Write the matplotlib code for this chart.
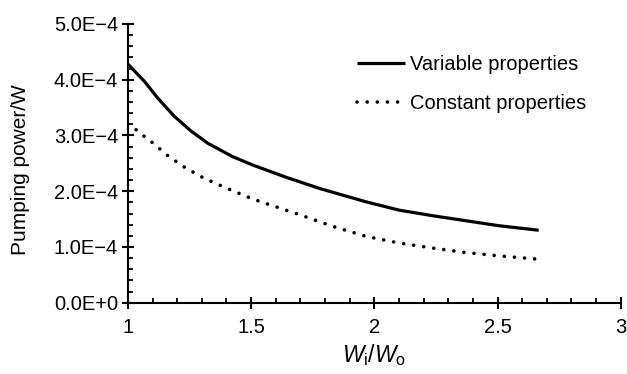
import matplotlib
matplotlib.use("Agg")
import matplotlib.pyplot as plt
from matplotlib.ticker import FixedLocator, MultipleLocator

plt.rcParams['font.family'] = ['Liberation Sans', 'DejaVu Sans']
plt.rcParams['mathtext.fontset'] = 'custom'
plt.rcParams['mathtext.rm'] = 'Liberation Sans'
plt.rcParams['mathtext.it'] = 'Liberation Sans:italic'

# Data
x_var = [1.0, 1.067, 1.121, 1.189, 1.256, 1.324, 1.425, 1.506, 1.642, 1.777, 1.966,
         2.101, 2.237, 2.372, 2.507, 2.667]
y_var = [4.28e-4, 3.97e-4, 3.67e-4, 3.34e-4, 3.08e-4, 2.86e-4, 2.62e-4, 2.47e-4,
         2.25e-4, 2.05e-4, 1.81e-4, 1.66e-4, 1.56e-4, 1.47e-4, 1.38e-4, 1.30e-4]

x_const = [1.0, 1.037, 1.07, 1.10, 1.164, 1.233, 1.306, 1.382, 1.419, 1.506, 1.642,
           1.696, 1.831, 1.966, 2.101, 2.237, 2.372, 2.507, 2.667]
y_const = [3.21e-4, 3.09e-4, 2.97e-4, 2.87e-4, 2.63e-4, 2.42e-4, 2.24e-4, 2.09e-4,
           2.02e-4, 1.86e-4, 1.66e-4, 1.58e-4, 1.37e-4, 1.19e-4, 1.07e-4, 0.98e-4,
           0.90e-4, 0.84e-4, 0.78e-4]

labels = ["Variable properties", "Constant properties"]
x_ticks = [1, 1.5, 2, 2.5, 3]
x_tick_labels = ["1", "1.5", "2", "2.5", "3"]
y_ticks = [0, 1e-4, 2e-4, 3e-4, 4e-4, 5e-4]
y_tick_labels = ["0.0E+0", "1.0E\u22124", "2.0E\u22124", "3.0E\u22124", "4.0E\u22124", "5.0E\u22124"]

fig = plt.figure(figsize=(6.27, 3.74), dpi=100)
ax = fig.add_axes([0.204, 0.1906, 0.786, 0.7454])

ax.plot(x_var, y_var, color='black', lw=2.3, solid_capstyle='butt',
        solid_joinstyle='round', label=labels[0])
ax.plot(x_const, y_const, color='black', lw=2.6, linestyle=(0, (0.01, 2.8)),
        dash_capstyle='round', label=labels[1])

ax.set_xlim(1, 3)
ax.set_ylim(0, 5e-4)

for s in ['top', 'right']:
    ax.spines[s].set_visible(False)
for s in ['left', 'bottom']:
    ax.spines[s].set_linewidth(1.5)

ax.xaxis.set_major_locator(FixedLocator(x_ticks))
ax.set_xticklabels(x_tick_labels)
ax.xaxis.set_minor_locator(MultipleLocator(0.1))
ax.yaxis.set_major_locator(FixedLocator(y_ticks))
ax.set_yticklabels(y_tick_labels)
ax.yaxis.set_minor_locator(MultipleLocator(0.2e-4))

ax.tick_params(which='major', direction='inout', length=8, width=1.5, labelsize=14.5)
ax.tick_params(axis='y', which='major', pad=3)
ax.tick_params(axis='x', which='major', pad=7)
ax.tick_params(which='minor', direction='in', length=3.8, width=1.3)

ax.set_ylabel("Pumping power/W", fontsize=15)
ax.yaxis.set_label_coords(-0.199, 0.476)
ax.set_xlabel(r"$\mathit{W}_{\mathrm{i}}/\mathit{W}_{\mathrm{o}}$", fontsize=16.5, labelpad=4)

leg = ax.legend(loc='upper left', bbox_to_anchor=(0.4645, 0.888), frameon=False,
                fontsize=14.5, handlelength=2.4, handletextpad=0.25, labelspacing=0.97,
                borderaxespad=0, borderpad=0)

fig.savefig("out.png", dpi=100)
